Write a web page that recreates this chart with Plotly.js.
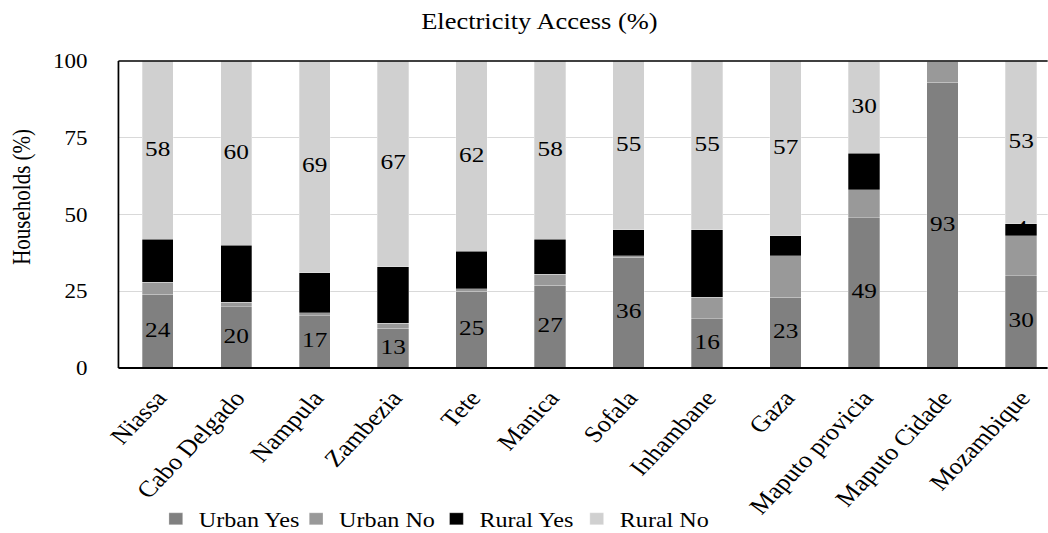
<!DOCTYPE html>
<html>
<head>
<meta charset="utf-8">
<script src="https://cdn.plot.ly/plotly-3.0.1.min.js"></script>
<style>
  html, body { margin: 0; padding: 0; overflow: hidden; background: #ffffff; }
  /* the chart is laid out narrower and widened horizontally */
  #chart { width: 911px; height: 533px; transform: scaleX(1.15); transform-origin: 0 0; }
</style>
</head>
<body>
<div id="chart"></div>
<script>
// Share of households by electricity access, per province (%)
const categories = ['Niassa', 'Cabo Delgado', 'Nampula', 'Zambezia', 'Tete', 'Manica',
  'Sofala', 'Inhambane', 'Gaza', 'Maputo provicia', 'Maputo Cidade', 'Mozambique'];
const urbanYes = [24, 20, 17, 13, 25, 27, 36, 16, 23, 49, 93, 30];
const urbanNo  = [4, 1.5, 1, 1.5, 0.8, 3.5, 0.5, 7, 13.5, 9, 7, 13];
const ruralYes = [14, 18.5, 13, 18.5, 12.2, 11.5, 8.5, 22, 6.5, 12, 0, 4];
const ruralNo  = [58, 60, 69, 67, 62, 58, 55, 55, 57, 30, 0, 53];

// which segments carry a value label
const labelRuralYesFor = ['Mozambique'];

const FONT = "'Liberation Serif', 'Times New Roman', serif";

const series = [
  { name: 'Urban Yes', values: urbanYes, color: '#808080' },
  { name: 'Urban No',  values: urbanNo,  color: '#999999' },
  { name: 'Rural Yes', values: ruralYes, color: '#000000' },
  { name: 'Rural No',  values: ruralNo,  color: '#d0d0d0' }
];

const traces = series.map(s => ({
  type: 'bar',
  name: s.name,
  x: categories,
  y: s.values,
  marker: { color: s.color, line: { color: 'rgba(255,255,255,0.45)', width: 0.6 } },
  hoverinfo: 'skip'
}));

// segment midpoints for the value labels
const base = categories.map(() => 0);
const mids = series.map(s => s.values.map((v, i) => {
  const m = base[i] + v / 2;
  base[i] += v;
  return m;
}));

function labelTrace(values, ys, keep) {
  return {
    type: 'scatter',
    mode: 'text',
    x: categories,
    y: ys,
    text: values.map((v, i) => keep(v, i) ? String(v) : ''),
    textposition: 'middle center',
    textfont: { family: FONT, size: 22, color: '#000000' },
    cliponaxis: false,
    showlegend: false,
    hoverinfo: 'skip'
  };
}

traces.push(labelTrace(urbanYes, mids[0], v => v > 0));
traces.push(labelTrace(ruralYes, mids[2], (v, i) => labelRuralYesFor.includes(categories[i])));
traces.push(labelTrace(ruralNo, mids[3], v => v > 0));

const layout = {
  width: 911,
  height: 533,
  margin: { l: 103, r: 0, t: 61, b: 165 },
  paper_bgcolor: '#ffffff',
  plot_bgcolor: '#ffffff',
  font: { family: FONT, color: '#000000', size: 20 },
  barmode: 'stack',
  bargap: 0.6,
  title: {
    text: 'Electricity Access (%)',
    font: { family: FONT, size: 23, color: '#000000' },
    xref: 'paper', x: 0.453, xanchor: 'center',
    yref: 'container', y: 0.96, yanchor: 'middle'
  },
  xaxis: {
    type: 'category',
    range: [-0.5, 11.337],
    tickangle: -50,
    tickfont: { family: FONT, size: 23, color: '#000000' },
    ticklabelstandoff: 11,
    showgrid: false,
    zeroline: false,
    showline: false,
    ticks: '',
    automargin: false,
    fixedrange: true
  },
  yaxis: {
    range: [0, 100],
    tickvals: [0, 25, 50, 75, 100],
    ticktext: ['0', '25', '50', '75', '100'],
    tickfont: { family: FONT, size: 20, color: '#000000' },
    ticks: '',
    ticklabelstandoff: 26,
    showgrid: true,
    gridcolor: '#d9d9d9',
    gridwidth: 1.3,
    zeroline: false,
    showline: false,
    automargin: false,
    fixedrange: true
  },
  legend: {
    orientation: 'h',
    xref: 'paper', x: 0.037, xanchor: 'left',
    yref: 'container', y: 0.026, yanchor: 'middle',
    font: { family: FONT, size: 21, color: '#000000' },
    traceorder: 'normal',
    itemwidth: 30,
    entrywidthmode: 'pixels',
    entrywidth: 77,
    bgcolor: 'rgba(0,0,0,0)'
  },
  annotations: [{
    text: 'Households (%)',
    textangle: -90,
    xref: 'paper', x: -0.1033, xanchor: 'center',
    yref: 'paper', y: 0.556, yanchor: 'middle',
    showarrow: false,
    font: { family: FONT, size: 21, color: '#000000' }
  }],
  shapes: [
    { type: 'line', xref: 'paper', yref: 'paper', x0: 0, x1: 0, y0: 0, y1: 1, line: { color: '#000000', width: 1.5 } },
    { type: 'line', xref: 'paper', yref: 'paper', x0: 0, x1: 1.05, y0: 1, y1: 1, line: { color: '#000000', width: 1.4 } },
    { type: 'line', xref: 'paper', yref: 'paper', x0: 0, x1: 1.05, y0: 0, y1: 0, line: { color: '#000000', width: 2.2 } }
  ]
};

Plotly.newPlot('chart', traces, layout, { displayModeBar: false, staticPlot: true });
</script>
</body>
</html>
